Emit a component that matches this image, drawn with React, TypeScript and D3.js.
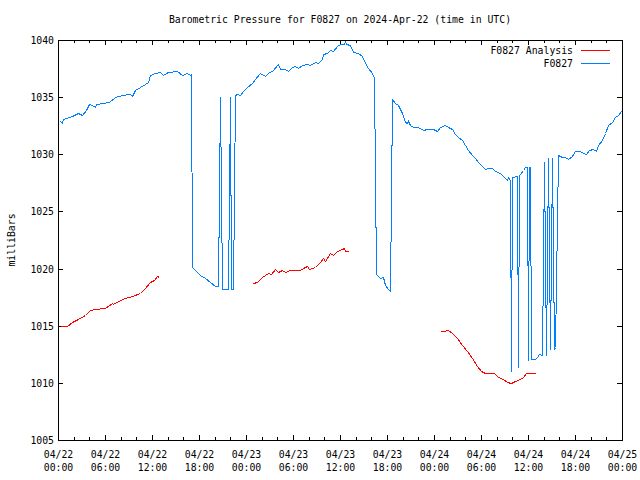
import React from 'react';
import * as d3 from 'd3';

const START = Date.UTC(2024, 3, 22);
const TITLE = 'Barometric Pressure for F0827 on 2024-Apr-22 (time in UTC)';
const Y_LABEL = 'milliBars';
const SERIES_NAMES = ['F0827 Analysis', 'F0827'];
const Y_TICKS = [1005, 1010, 1015, 1020, 1025, 1030, 1035, 1040];

// F0827 observations: hours since 2024-04-22 00:00 UTC
const obsHours = [
  0.26, 0.47, 0.68, 1.75, 2.51, 3.03, 3.54, 4.0, 4.34, 4.66, 4.85, 5.78, 6.55, 7.28, 8.13, 9.19, 9.49, 9.83,
  10.47, 11.11, 11.49, 11.74, 12.38, 13.02, 13.44, 14.08, 15.15, 15.79, 16.43, 16.85, 17.0, 17.13, 17.71,
  18.13, 18.77, 19.4, 20.04, 20.39, 20.72, 20.91, 21.66, 21.94, 22.14, 22.38, 22.54, 22.81, 23.23, 23.66,
  24.09, 24.73, 25.15, 25.79, 26.43, 26.85, 27.49, 28.05, 28.34, 28.98, 29.4, 29.83, 30.26, 30.68, 31.11,
  31.75, 32.17, 32.81, 33.23, 33.66, 33.87, 34.3, 34.72, 35.14, 35.58, 36.0, 36.51, 36.64, 36.77, 37.28,
  37.7, 38.34, 38.77, 39.19, 39.61, 40.05, 40.38, 40.65, 40.76, 41.11, 41.45, 41.74, 42.13, 42.38, 42.66,
  43.02, 43.44, 43.88, 44.3, 44.51, 44.68, 44.94, 45.36, 45.79, 46.21, 46.63, 47.07, 47.49, 47.91, 48.34,
  48.77, 49.4, 49.83, 50.26, 50.68, 51.1, 51.54, 51.96, 52.38, 52.81, 53.23, 53.66, 54.09, 54.51, 54.93,
  55.36, 55.79, 56.43, 56.84, 57.28, 57.48, 57.73, 57.81, 57.96, 58.56, 58.7, 58.89, 58.98, 59.32, 59.62,
  59.83, 59.94, 60.09, 60.2, 60.33, 60.89, 61.11, 61.44, 61.79, 61.98, 62.26, 62.55, 62.85, 63.09, 63.32,
  63.49, 63.89, 64.3, 64.72, 65.14, 65.58, 66.0, 66.64, 66.98, 67.4, 67.83, 68.34, 68.68, 68.97, 69.41,
  69.83, 70.25, 70.68, 71.11, 71.53, 71.84, 72.0,
];
const obsValues = [
  1032.95, 1032.7, 1033.06, 1033.35, 1033.6, 1033.4, 1033.9, 1034.4, 1034.35, 1034.15, 1034.4, 1034.5,
  1034.6, 1035.0, 1035.2, 1035.3, 1035.1, 1035.6, 1035.9, 1036.15, 1036.3, 1036.9, 1037.1, 1037.2, 1036.95,
  1037.17, 1037.3, 1036.97, 1037.1, 1036.95, 1037.0, 1020.15, 1019.7, 1019.4, 1019.2, 1018.8, 1018.5,
  1018.5, 1035.0, 1018.2, 1018.2, 1035.0, 1018.2, 1018.2, 1035.2, 1035.3, 1035.2, 1035.5, 1035.9, 1036.2,
  1036.55, 1037.1, 1036.85, 1037.15, 1037.4, 1037.9, 1037.5, 1037.5, 1037.3, 1037.6, 1037.7, 1037.55,
  1037.85, 1037.9, 1037.8, 1038.1, 1038.0, 1038.35, 1038.8, 1038.9, 1039.15, 1039.05, 1039.45, 1039.65,
  1039.65, 1039.9, 1039.65, 1039.6, 1038.95, 1038.85, 1038.6, 1038.0, 1037.55, 1037.1, 1036.7, 1019.5,
  1019.4, 1019.2, 1019.25, 1018.6, 1018.2, 1018.0, 1034.8, 1034.5, 1034.3, 1033.6, 1032.85, 1032.7, 1032.9,
  1032.55, 1032.4, 1032.4, 1032.3, 1032.1, 1032.25, 1032.25, 1032.2, 1032.05, 1032.4, 1032.55, 1032.4,
  1032.25, 1031.8, 1031.55, 1031.25, 1030.8, 1030.4, 1029.95, 1029.65, 1029.35, 1029.0, 1028.7, 1028.8,
  1028.8, 1028.5, 1028.35, 1028.1, 1027.75, 1028.05, 1027.75, 1011.0, 1028.0, 1028.1, 1011.4, 1028.2,
  1028.3, 1028.6, 1028.9, 1028.9, 1012.0, 1028.9, 1028.9, 1012.05, 1012.05, 1012.3, 1012.5, 1012.4,
  1029.35, 1012.4, 1029.65, 1012.95, 1029.65, 1013.0, 1013.1, 1029.95, 1029.75, 1029.8, 1029.55, 1029.85,
  1030.25, 1030.3, 1030.1, 1030.0, 1030.4, 1030.45, 1030.3, 1030.8, 1031.25, 1031.85, 1032.55, 1032.8,
  1033.3, 1033.45, 1033.75, 1033.8,
];

// F0827 Analysis: null marks a gap in the line
const analysisHours = [
  0.26, 1.11, 1.75, 2.59, 3.45, 4.09, 4.72, 6.0, 6.86, 7.06, 7.7, 8.55, 9.41, 10.47, 11.02, 11.74, 12.29,
  12.68, 12.93, 18.0,
  24.86, 25.37, 26.0, 26.85, 27.19, 27.7, 28.12, 28.56, 28.98, 29.62, 30.89, 31.31, 31.75, 32.04, 32.81,
  33.45, 33.87, 34.09, 34.72, 35.07, 35.58, 36.22, 36.55, 36.64, 36.98, 42.0,
  48.77, 49.19, 49.75, 50.26, 50.9, 51.54, 52.17, 52.81, 53.45, 54.0, 54.51, 55.7, 56.21, 56.85, 57.28,
  57.79, 58.34, 58.76, 59.32, 59.74, 60.93,
];
const analysisValues: (number | null)[] = [
  1015.0, 1015.0, 1015.3, 1015.55, 1015.9, 1016.4, 1016.5, 1016.55, 1017.0, 1016.9, 1017.2, 1017.4, 1017.6,
  1017.9, 1018.2, 1018.85, 1019.0, 1019.35, 1019.25, null,
  1018.7, 1018.85, 1019.25, 1019.65, 1019.5, 1019.95, 1019.7, 1019.9, 1019.7, 1019.85, 1019.85, 1020.05,
  1020.2, 1020.0, 1020.1, 1020.6, 1020.9, 1020.7, 1021.35, 1021.15, 1021.55, 1021.75, 1021.8, 1021.5,
  1021.5, null,
  1014.5, 1014.55, 1014.6, 1014.4, 1013.95, 1013.3, 1012.75, 1012.15, 1011.5, 1011.05, 1010.9, 1010.9,
  1010.55, 1010.35, 1010.1, 1009.95, 1010.15, 1010.25, 1010.55, 1010.9, 1010.9,
];

const COLORS = ['#ff0000', '#0080ff'];
const FONT = "'DejaVu Sans Mono', monospace";

type Pt = { t: Date; v: number | null };
const toDate = (h: number) => new Date(START + h * 3600e3);

export default function App() {
  const W = 640, H = 480;
  const L = 58, R = 622, T = 40, B = 440;
  const x = d3.scaleUtc().domain([toDate(0), toDate(72)]).range([L, R]);
  const y = d3.scaleLinear().domain([1005, 1040]).range([B, T]);

  const obs: Pt[] = obsHours.map((h, i) => ({ t: toDate(h), v: obsValues[i] }));
  const ana: Pt[] = analysisHours.map((h, i) => ({ t: toDate(h), v: analysisValues[i] }));
  const line = d3
    .line<Pt>()
    .defined((d) => d.v != null)
    .x((d) => Math.round(x(d.t)) + 0.5)
    .y((d) => Math.round(y(d.v as number)) + 0.5);

  const xTicks = x.ticks(d3.utcHour.every(2) as d3.TimeInterval);
  const fmtDay = d3.utcFormat('%m/%d');
  const fmtTime = d3.utcFormat('%H:%M');
  const fs = 9.8;

  return (
    <svg
      width={W}
      height={H}
      style={{ position: 'absolute', left: 0, top: 0, background: '#fff' }}
      fontFamily={FONT}
      fontSize={fs}
    >
      <rect x={0} y={0} width={W} height={H} fill="#fff" />
      <text x={(L + R) / 2} y={23} textAnchor="middle" fill="#000">
        {TITLE}
      </text>
      <text transform={`translate(15,${(T + B) / 2}) rotate(-90)`} textAnchor="middle" fill="#000">
        {Y_LABEL}
      </text>

      {/* y ticks */}
      {Y_TICKS.map((v) => {
        const yy = Math.round(y(v)) + 0.5;
        return (
          <g key={v}>
            <line x1={L} x2={L + 5} y1={yy} y2={yy} stroke="#000" shapeRendering="crispEdges" />
            <line x1={R - 5} x2={R} y1={yy} y2={yy} stroke="#000" shapeRendering="crispEdges" />
            <text x={L - 4} y={yy + 3.5} textAnchor="end" fill="#000">
              {v}
            </text>
          </g>
        );
      })}

      {/* x ticks */}
      {xTicks.map((t) => {
        const xx = Math.round(x(t)) + 0.5;
        const major = t.getUTCHours() % 6 === 0;
        const len = major ? 5 : 3;
        return (
          <g key={+t}>
            <line x1={xx} x2={xx} y1={B} y2={B - len} stroke="#000" shapeRendering="crispEdges" />
            <line x1={xx} x2={xx} y1={T} y2={T + len} stroke="#000" shapeRendering="crispEdges" />
            {major && (
              <>
                <text x={xx} y={458} textAnchor="middle" fill="#000">
                  {fmtDay(t)}
                </text>
                <text x={xx} y={471} textAnchor="middle" fill="#000">
                  {fmtTime(t)}
                </text>
              </>
            )}
          </g>
        );
      })}

      <path d={line(ana) || ''} fill="none" stroke={COLORS[0]} strokeWidth={1} shapeRendering="crispEdges" />
      <path d={line(obs) || ''} fill="none" stroke={COLORS[1]} strokeWidth={1} shapeRendering="crispEdges" />

      {/* frame */}
      <rect x={L + 0.5} y={T + 0.5} width={R - L} height={B - T} fill="none" stroke="#000" shapeRendering="crispEdges" />

      {/* legend */}
      {SERIES_NAMES.map((name, i) => {
        const yy = 50 + i * 13;
        return (
          <g key={name}>
            <text x={573} y={yy + 4} textAnchor="end" fill="#000">
              {name}
            </text>
            <line x1={581} x2={610} y1={yy + 0.5} y2={yy + 0.5} stroke={COLORS[i]} shapeRendering="crispEdges" />
          </g>
        );
      })}
    </svg>
  );
}
